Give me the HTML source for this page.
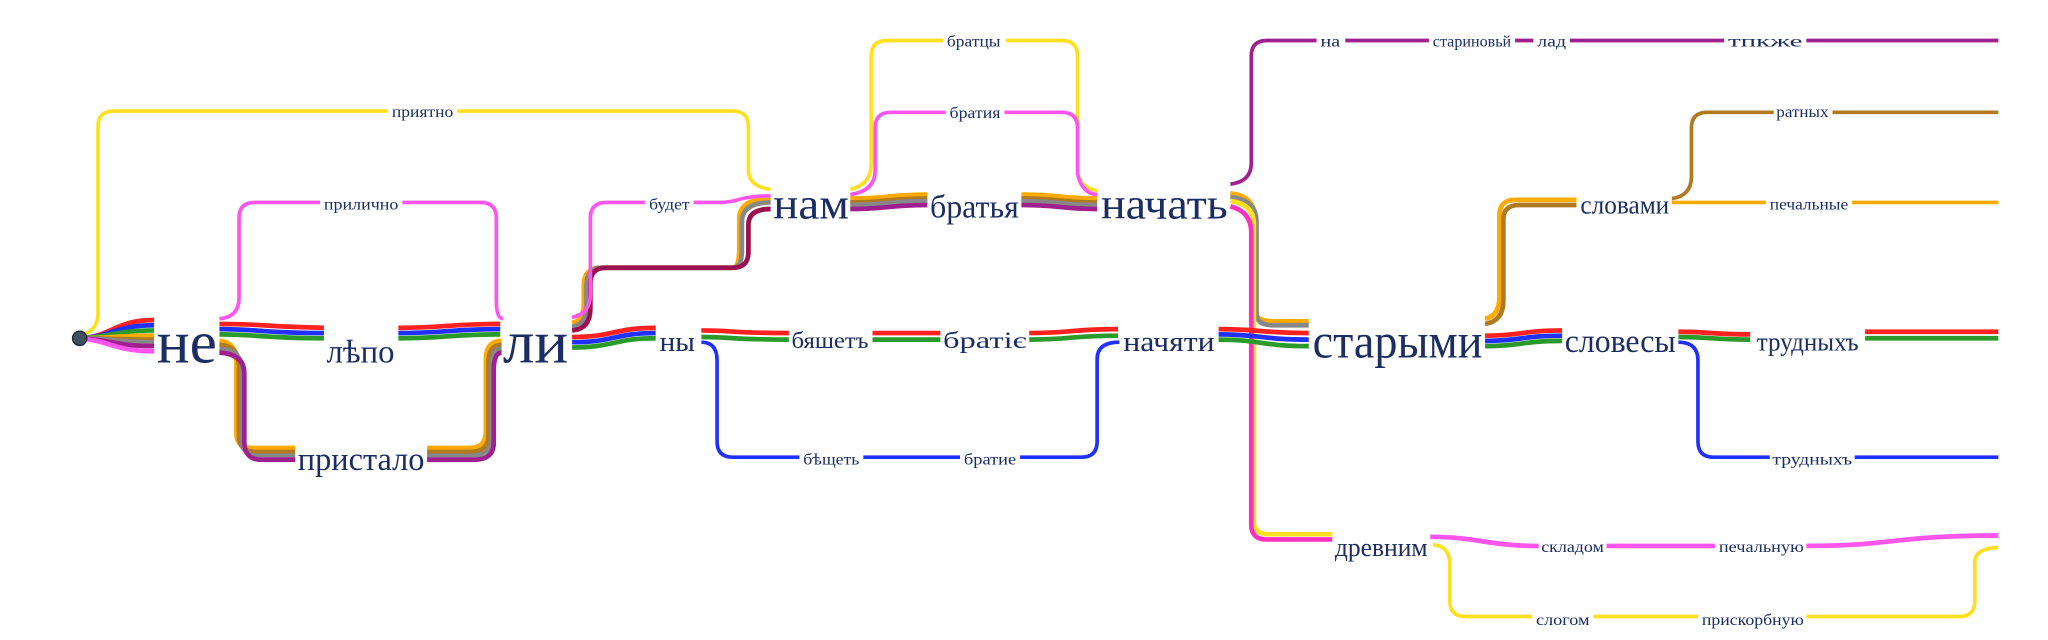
<!DOCTYPE html>
<html><head><meta charset="utf-8"><style>
html,body{margin:0;padding:0;background:#fff;}
svg{display:block}
text{font-family:"Liberation Serif","DejaVu Serif",serif;fill:#1b2d62;dominant-baseline:central;}
path{fill:none;stroke-linecap:butt;}
.s{stroke-width:3.6}
.t{stroke-width:2.8}
</style></head><body>
<svg width="2048" height="640" viewBox="0 0 1568 490" xmlns="http://www.w3.org/2000/svg">
<g class="s">
<path stroke="#ff2020" d="M61 259 C85 258 88 245 118 245"/>
<path stroke="#2030ff" d="M61 259 C85 258 88 249 118 249"/>
<path stroke="#2a9a2a" d="M61 259 C85 258 88 253 118 253"/>
<path stroke="#ffaa00" d="M61 259 C85 259 88 257 118 257"/>
<path stroke="#b07a20" d="M61 259 C85 259 88 260 118 260"/>
<path stroke="#888888" d="M61 259 C85 259 88 262 118 262"/>
<path stroke="#a02090" d="M61 259 C85 260 88 265 118 265"/>
<path stroke="#ff55ee" d="M61 259 C85 261 88 269 118 269"/>
</g>
<path class="t" stroke="#ffe020" d="M64 256 Q75 252 75 240 V97 Q75 85 87 85 H297 M350 85 H561 Q573 85 573 97 V130 Q573 143 590 145"/>
<g class="s">
<path stroke="#ff2020" d="M168 248 C200 248 200 250 248 251 M305 251 C340 251 345 248 383 248"/>
<path stroke="#2030ff" d="M168 252 C200 252 200 255 248 255 M305 255 C340 255 345 252 383 252"/>
<path stroke="#2a9a2a" d="M168 256 C200 256 200 259 248 259 M305 259 C340 259 345 256 383 256"/>
</g>
<path class="t" stroke="#ff55ee" d="M168 244 Q183 243 183 228 V167 Q183 155 195 155 H245 M308 155 H368 Q380 155 380 167 V230 Q380 244 385 244"/>
<g class="s">
<path stroke="#ffaa00" d="M168 261 Q181 262 181 277 V332 Q181 343 194 343 H226 M327 343 H360 Q372 343 372 330 V275 Q372 261 384 261"/>
<path stroke="#b07a20" d="M168 264 Q183 265 183 280 V334 Q183 346 196 346 H226 M327 346 H360 Q374 346 374 333 V278 Q374 264 384 264"/>
<path stroke="#888888" d="M168 267 Q185 268 185 283 V336 Q185 349 198 349 H226 M327 349 H361 Q376 349 376 336 V281 Q376 267 384 267"/>
<path stroke="#a02090" d="M168 270 Q187 271 187 286 V338 Q187 352 200 352 H226 M327 352 H363 Q378 352 378 339 V284 Q378 270 384 270"/>
</g>
<g class="s">
<path stroke="#ff2020" d="M438 258 C470 258 470 251 502 251"/>
<path stroke="#2030ff" d="M438 262 C470 262 470 255 502 255"/>
<path stroke="#2a9a2a" d="M438 266 C470 266 470 259 502 259"/>
</g>
<g class="s">
<path stroke="#ffaa00" d="M438 247 Q447 246 447 232 V218 Q447 205 460 205 H561 Q566 205 566 190 V168 Q566 152 590 152"/>
<path stroke="#888888" d="M438 250 Q449 249 449 234 V219 Q449 205 460 205 H561 Q568 205 568 192 V170 Q568 155 590 155"/>
<path stroke="#9b1050" d="M438 253 Q452 252 452 236 V217 Q452 205 464 205 H561 Q573 205 573 193 V172 Q573 160 590 160"/>
</g>
<path class="t" stroke="#ff55ee" d="M438 243 Q452 240 452 225 V167 Q452 155 464 155 H494 M531 155 H552 C565 155 565 150 590 150"/>
<g class="s">
<path stroke="#ff2020" d="M537 253 C560 253 560 255 604 255 M668 255 H720 M788 255 C820 255 820 252 856 252"/>
<path stroke="#2a9a2a" d="M537 258 C560 258 560 260 604 260 M668 260 H720 M788 260 C820 260 820 257 856 257"/>
</g>
<path class="t" stroke="#2030ff" d="M537 262 Q549 262 549 276 V338 Q549 350 561 350 H612 M661 350 H735 M781 350 H828 Q840 350 840 338 V275 Q840 262 857 262"/>
<g class="s">
<path stroke="#ffaa00" d="M651 152 C680 152 680 149 710 149 M782 149 C812 149 812 152 840 152"/>
<path stroke="#b07a20" d="M651 155 C680 155 680 152 710 152 M782 152 C812 152 812 155 840 155"/>
<path stroke="#888888" d="M651 157 C680 157 680 154 710 154 M782 154 C812 154 812 157 840 157"/>
<path stroke="#a02090" d="M651 160 C680 160 680 157 710 157 M782 157 C812 157 812 160 840 160"/>
</g>
<path class="t" stroke="#ffe020" d="M651 145 Q667 141 667 126 V43 Q667 31 679 31 H722 M770 31 H813 Q825 31 825 43 V130 Q825 143 840 146"/>
<path class="t" stroke="#ff55ee" d="M651 149 Q670 146 670 131 V98 Q670 86 682 86 H724 M769 86 H813 Q825 86 825 98 V133 Q828 148 840 149"/>
<path class="t" stroke="#a02090" d="M942 141 Q958 139 958 125 V43 Q958 31 970 31 H1008 M1030 31 H1094 M1160 31 H1174 M1202 31 H1320 M1383 31 H1530"/>
<g class="s">
<path stroke="#ffaa00" d="M942 148 Q961 150 961 168 V238 Q961 246 975 246 H1002"/>
<path stroke="#888888" d="M942 151 Q962 153 962 170 V240 Q962 249 975 249 H1002"/>
<path stroke="#ffe020" d="M942 154 Q960 156 960 172 V400 Q960 409 972 409 H1020"/>
</g>
<path class="s" stroke="#ff30c0" d="M942 158 Q958 162 958 178 V402 Q958 413 970 413 H1020"/>
<g class="s">
<path stroke="#ff2020" d="M933 252 C965 252 965 255 1002 255"/>
<path stroke="#2030ff" d="M933 256 C965 256 965 260 1002 260"/>
<path stroke="#2a9a2a" d="M933 260 C965 260 965 265 1002 265"/>
</g>
<g class="s">
<path stroke="#ff2020" d="M1137 257 C1165 257 1165 253 1196 253"/>
<path stroke="#2030ff" d="M1137 261 C1165 261 1165 257 1196 257"/>
<path stroke="#2a9a2a" d="M1137 265 C1165 265 1165 261 1196 261"/>
</g>
<path class="s" stroke="#ffaa00" d="M1137 244 Q1148 242 1148 227 V165 Q1148 153 1160 153 H1207"/>
<path class="s" stroke="#b07a20" d="M1137 248 Q1151 246 1151 230 V168 Q1151 157 1163 157 H1207"/>
<path class="t" stroke="#b07a20" d="M1280 152 Q1295 150 1295 135 V98 Q1295 86 1307 86 H1358 M1403 86 H1530"/>
<path class="t" stroke="#ffaa00" d="M1280 155 H1352 M1418 155 H1530"/>
<g class="s">
<path stroke="#ff2020" d="M1285 254 C1310 254 1310 256 1340 256 M1428 254 H1530"/>
<path stroke="#2a9a2a" d="M1285 258 C1310 258 1310 260 1340 260 M1428 259 H1530"/>
</g>
<path class="t" stroke="#2030ff" d="M1285 262 Q1300 262 1300 276 V338 Q1300 350 1312 350 H1355 M1420 350 H1530"/>
<path class="s" stroke="#ff55ee" d="M1095 411 C1130 411 1140 418 1178 418 M1230 418 H1313 M1383 418 C1450 418 1450 410 1530 410"/>
<path class="t" stroke="#ffe020" d="M1097 417 Q1110 418 1110 432 V460 Q1110 472 1122 472 H1173 M1220 472 H1300 M1383 472 H1500 Q1512 472 1512 460 V430 Q1512 420 1530 419"/>
<circle cx="61" cy="259" r="5.5" fill="#3f5060" stroke="#1a2530" stroke-width="1"/>
<text x="120" y="262" font-size="46" textLength="46" lengthAdjust="spacingAndGlyphs">не</text>
<text x="250" y="270" font-size="25" textLength="52" lengthAdjust="spacingAndGlyphs">лѣпо</text>
<text x="228" y="352" font-size="25" textLength="97" lengthAdjust="spacingAndGlyphs">пристало</text>
<text x="385" y="262" font-size="46" textLength="50" lengthAdjust="spacingAndGlyphs">ли</text>
<text x="505" y="262" font-size="22" textLength="27" lengthAdjust="spacingAndGlyphs">ны</text>
<text x="592" y="157" font-size="33" textLength="58" lengthAdjust="spacingAndGlyphs">нам</text>
<text x="712" y="159" font-size="25" textLength="68" lengthAdjust="spacingAndGlyphs">братья</text>
<text x="843" y="157" font-size="33" textLength="97" lengthAdjust="spacingAndGlyphs">начать</text>
<text x="606" y="261" font-size="18" textLength="59" lengthAdjust="spacingAndGlyphs">бяшетъ</text>
<text x="722" y="261" font-size="18" textLength="64" lengthAdjust="spacingAndGlyphs">братіє</text>
<text x="860" y="262" font-size="22" textLength="70" lengthAdjust="spacingAndGlyphs">начяти</text>
<text x="615" y="352" font-size="12" textLength="43" lengthAdjust="spacingAndGlyphs">бѣщеть</text>
<text x="738" y="352" font-size="12" textLength="40" lengthAdjust="spacingAndGlyphs">братие</text>
<text x="300" y="86" font-size="12" textLength="47" lengthAdjust="spacingAndGlyphs">приятно</text>
<text x="248" y="157" font-size="12" textLength="57" lengthAdjust="spacingAndGlyphs">прилично</text>
<text x="497" y="157" font-size="12" textLength="31" lengthAdjust="spacingAndGlyphs">будет</text>
<text x="725" y="32" font-size="12" textLength="41" lengthAdjust="spacingAndGlyphs">братцы</text>
<text x="727" y="87" font-size="12" textLength="39" lengthAdjust="spacingAndGlyphs">братия</text>
<text x="1005" y="262" font-size="37" textLength="130" lengthAdjust="spacingAndGlyphs">старыми</text>
<text x="1210" y="157" font-size="20" textLength="68" lengthAdjust="spacingAndGlyphs">словами</text>
<text x="1198" y="262" font-size="25" textLength="85" lengthAdjust="spacingAndGlyphs">словесы</text>
<text x="1345" y="262" font-size="20" textLength="78" lengthAdjust="spacingAndGlyphs">трудныхъ</text>
<text x="1357" y="352" font-size="12" textLength="61" lengthAdjust="spacingAndGlyphs">трудныхъ</text>
<text x="1360" y="86" font-size="12" textLength="40" lengthAdjust="spacingAndGlyphs">ратных</text>
<text x="1355" y="157" font-size="12" textLength="60" lengthAdjust="spacingAndGlyphs">печальные</text>
<text x="1011" y="32" font-size="12" textLength="15" lengthAdjust="spacingAndGlyphs">на</text>
<text x="1097" y="32" font-size="12" textLength="60" lengthAdjust="spacingAndGlyphs">стариновьй</text>
<text x="1177" y="32" font-size="12" textLength="22" lengthAdjust="spacingAndGlyphs">лад</text>
<text x="1323" y="32" font-size="12" textLength="57" lengthAdjust="spacingAndGlyphs">тпкже</text>
<text x="1022" y="419" font-size="20" textLength="71" lengthAdjust="spacingAndGlyphs">древним</text>
<text x="1180" y="419" font-size="12" textLength="48" lengthAdjust="spacingAndGlyphs">складом</text>
<text x="1316" y="419" font-size="12" textLength="65" lengthAdjust="spacingAndGlyphs">печальную</text>
<text x="1176" y="475" font-size="12" textLength="41" lengthAdjust="spacingAndGlyphs">слогом</text>
<text x="1303" y="475" font-size="12" textLength="78" lengthAdjust="spacingAndGlyphs">прискорбную</text>
</svg>
</body></html>
